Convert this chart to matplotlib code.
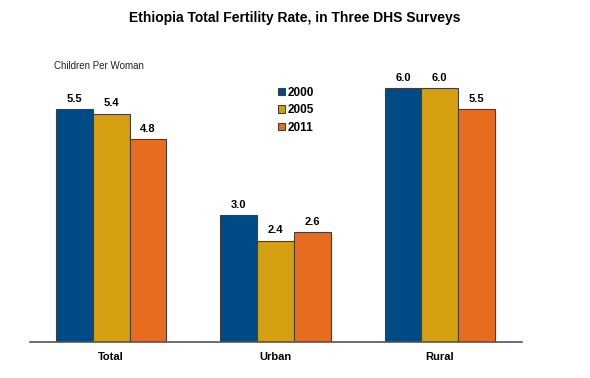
import numpy as np
import matplotlib.pyplot as plt

categories = ['Total', 'Urban', 'Rural']
years = ['2000', '2005', '2011']
tfr_2000 = [5.5, 3.0, 6.0]
tfr_2005 = [5.4, 2.4, 6.0]
tfr_2011 = [4.8, 2.6, 5.5]

colors = ['#004A85', '#D4A012', '#E86C1F']

plt.rcParams['font.family'] = ['Liberation Sans', 'DejaVu Sans']

fig = plt.figure(figsize=(5.9, 3.78), dpi=100)
ax = fig.add_axes([30/590, 36/378, 492/590, 282/378])

x = np.arange(len(categories))
w = 0.2236
series = [tfr_2000, tfr_2005, tfr_2011]
for i, vals in enumerate(series):
    pos = x + (i - 1) * w
    ax.bar(pos, vals, width=w, color=colors[i], edgecolor='#404040',
           linewidth=0.8, label=years[i])
    for p, v in zip(pos, vals):
        ax.text(p, v + 0.13, '%.1f' % v, ha='center', va='bottom',
                fontsize=8, fontweight='bold')

ax.set_xlim(-0.494, 2.5)
ax.set_ylim(0, 6.67)
ax.set_xticks(x)
ax.set_xticklabels(categories, fontsize=8, fontweight='bold')
ax.tick_params(axis='x', length=0, pad=7)
ax.set_yticks([])
for s in ['top', 'right', 'left']:
    ax.spines[s].set_visible(False)
ax.spines['bottom'].set_color('#555555')
ax.spines['bottom'].set_linewidth(1.2)

fig.text(0.5, 1 - 18/378, 'Ethiopia Total Fertility Rate, in Three DHS Surveys',
         ha='center', va='center', fontsize=10, fontweight='bold')
fig.text(54/590, 1 - 66/378, 'Children Per Woman', ha='left', va='center',
         fontsize=7, color='#222222')

fig.legend(loc='upper left', bbox_to_anchor=(272/590, 1 - 81/378),
           frameon=False, prop={'weight': 'bold', 'size': 8.5},
           handlelength=0.6, handleheight=0.6, handletextpad=0.2,
           labelspacing=0.45, borderpad=0)

fig.savefig('out.png', dpi=100)
